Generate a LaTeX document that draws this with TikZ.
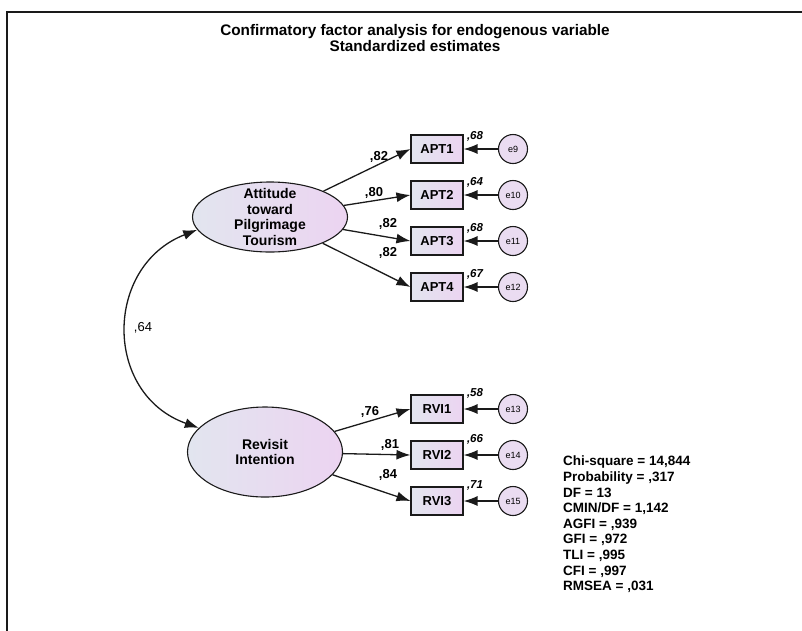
\documentclass[tikz,border=0pt]{standalone}
\usepackage{fontspec}
\setmainfont{Liberation Sans}
\usetikzlibrary{arrows.meta,shapes.geometric}
\definecolor{fillL}{HTML}{E2E5EF}
\definecolor{fillR}{HTML}{ECD4F1}
\definecolor{errfill}{HTML}{EADCF1}
\definecolor{ink}{HTML}{1A1A1A}
\begin{document}
\begin{tikzpicture}[x=1pt,y=-1pt,
  latent/.style={ellipse, draw=ink, line width=1.1pt, left color=fillL, right color=fillR, inner sep=0pt},
  latenttext/.style={font=\fontsize{14}{15.7}\selectfont\bfseries, align=center, inner sep=0pt},
  observed/.style={rectangle, draw=ink, line width=1.1pt, left color=fillL, right color=fillR,
    minimum width=52pt, minimum height=28pt, inner sep=0pt, font=\fontsize{13}{14}\selectfont\bfseries},
  errvar/.style={circle, draw=ink, line width=1.1pt, fill=errfill, minimum size=29pt, inner sep=0pt,
    font=\fontsize{9}{10}\selectfont},
  path/.style={draw=ink, line width=1.3pt, -{Latex[length=14pt,width=10pt]}},
  loading/.style={font=\fontsize{13}{14}\selectfont\bfseries, inner sep=0pt},
  smc/.style={font=\fontsize{11.5}{13}\selectfont\bfseries\itshape, inner sep=0pt},
]
\useasboundingbox (0,0) rectangle (802,630);

% frame
\draw[line width=1.8pt, draw=ink] (7,640) -- (7,12) -- (812,12);

% title
\node[font=\fontsize{15.3}{16.5}\selectfont\bfseries, align=center, inner sep=0pt] (title) at (415,38)
  {Confirmatory factor analysis for endogenous variable\\Standardized estimates};

% latent factors
\node[latent, minimum width=155pt, minimum height=70pt] (F1) at (270,217) {};
\node[latenttext] (F1t) at (F1.center) {Attitude\\toward\\Pilgrimage\\Tourism};
\node[latent, minimum width=155pt, minimum height=90pt] (F2) at (265,452) {};
\node[latenttext] (F2t) at (F2.center) {Revisit\\Intention};

% indicators
\foreach \n/\y in {1/149,2/195,3/241,4/287}{
  \node[observed] (APT\n) at (437,\y) {APT\n};
}
\foreach \n/\y in {1/409,2/455,3/501}{
  \node[observed] (RVI\n) at (437,\y) {RVI\n};
}

% error terms
\foreach \e/\t in {9/APT1,10/APT2,11/APT3,12/APT4,13/RVI1,14/RVI2,15/RVI3}{
  \node[errvar] (e\e) at ([xshift=76pt]\t.center) {e\e};
  \draw[path] (e\e) -- (\t);
}

% factor loadings
\foreach \t in {APT1,APT2,APT3,APT4}{ \draw[path] (F1) -- (\t.west); }
\foreach \t in {RVI1,RVI2,RVI3}{ \draw[path] (F2) -- (\t.west); }

\node[loading] (l1) at (379,157) {,82};
\node[loading] (l2) at (374,193) {,80};
\node[loading] (l3) at (388,224) {,82};
\node[loading] (l4) at (388,253) {,82};
\node[loading] (l5) at (370,412) {,76};
\node[loading] (l6) at (390,445) {,81};
\node[loading] (l7) at (388,475) {,84};

% squared multiple correlations
\node[smc] (s1) at (475,136) {,68};
\node[smc] (s2) at (475,182) {,64};
\node[smc] (s3) at (475,228) {,68};
\node[smc] (s4) at (475,274) {,67};
\node[smc] (s5) at (475,393) {,58};
\node[smc] (s6) at (475,439) {,66};
\node[smc] (s7) at (475,485) {,71};

% factor covariance
\draw[draw=ink, line width=1.3pt, {Latex[length=14pt,width=10pt]}-{Latex[length=14pt,width=10pt]}]
  (F1.190) .. controls (104,266) and (103,394) .. (F2.160);
\node[font=\fontsize{13}{14}\selectfont, inner sep=0pt] (cov) at (143,328) {,64};

% fit statistics
\node[font=\fontsize{13.5}{15.6}\selectfont\bfseries, align=left, anchor=north west, inner sep=0pt] (fit) at (563,456)
  {Chi-square = 14,844\\Probability = ,317\\DF = 13\\CMIN/DF = 1,142\\AGFI = ,939\\GFI = ,972\\TLI = ,995\\CFI = ,997\\RMSEA = ,031};
\end{tikzpicture}
\end{document}
